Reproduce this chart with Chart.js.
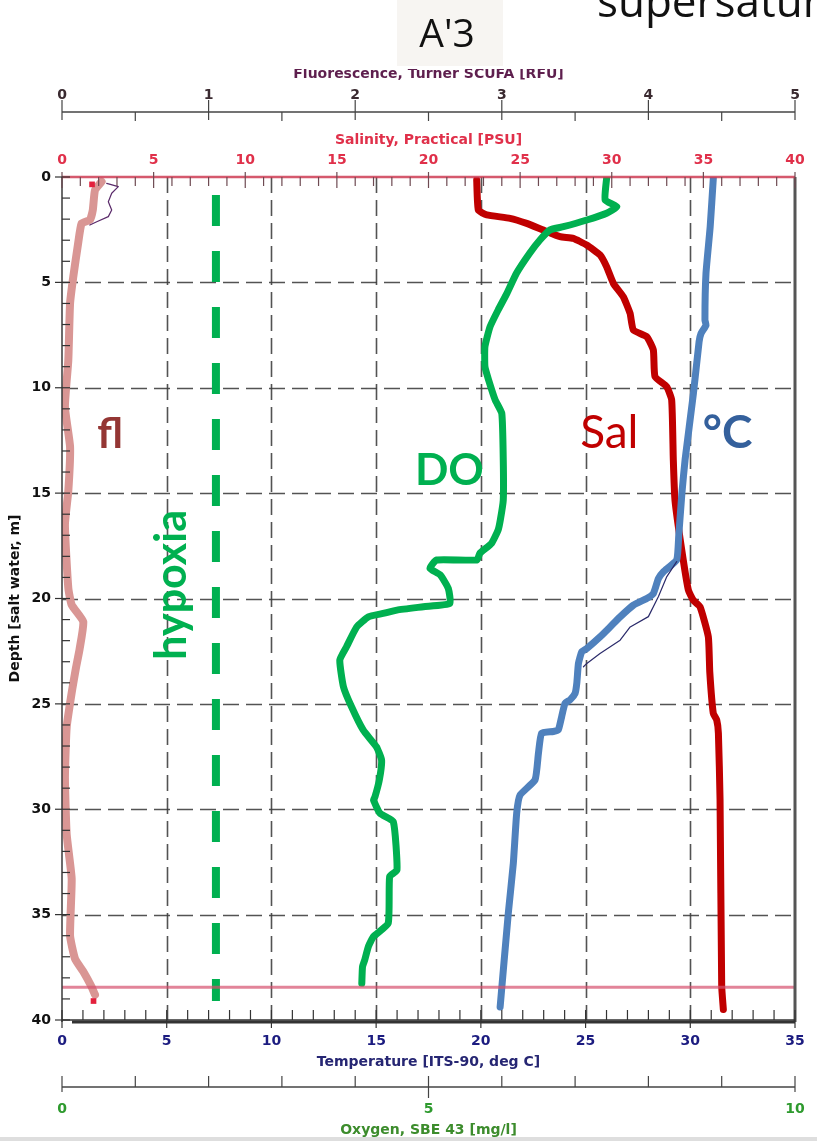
<!DOCTYPE html>
<html>
<head>
<meta charset="utf-8">
<title>A'3 profile</title>
<script src="https://cdn.jsdelivr.net/npm/chart.js@4.4.1/dist/chart.umd.min.js"></script>
<style>
  html, body { margin: 0; padding: 0; background: #ffffff; }
  #wrap { position: relative; width: 817px; height: 1141px; overflow: hidden; }
  #c { position: absolute; left: 0; top: 0; }
</style>
</head>
<body>
<div id="wrap"><canvas id="c" width="817" height="1141"></canvas></div>
<script>
// ---- CTD cast A'3: depth (m) paired with each measured property ----
const flDepth = [0.22, 0.62, 1.57, 2.04, 2.2, 3.15, 4.73, 6.0, 8.7, 10.9, 12.8, 14.9, 16.5, 19.5, 20.3, 21.1, 22.4, 23.3, 24.3, 26.1, 28.5, 31.2, 33.3, 36.0, 37.1, 37.7, 38.4, 38.8];
const flRfu   = [0.27, 0.225, 0.21, 0.19, 0.134, 0.11, 0.077, 0.055, 0.043, 0.02, 0.055, 0.043, 0.02, 0.043, 0.066, 0.145, 0.12, 0.095, 0.07, 0.032, 0.02, 0.032, 0.066, 0.055, 0.089, 0.145, 0.2, 0.225];

const doDepth = [0.06, 1.09, 1.41, 1.72, 2.04, 2.36, 2.51, 2.99, 3.62, 4.57, 5.52, 6.31, 7.1, 8.05, 9.0, 9.63, 10.58, 11.22, 13.43, 15.33, 16.27, 16.75, 17.38, 17.86, 18.17, 18.17, 18.57, 18.88, 19.52, 20.23, 20.39, 20.55, 20.71, 20.87, 21.35, 22.3, 22.92, 24.19, 25.14, 26.25, 27.04, 27.67, 28.6, 29.41, 29.56, 30.2, 30.59, 32.88, 33.19, 35.41, 36.04, 36.51, 37.15, 37.47, 38.26];
const doMgL   = [7.43, 7.41, 7.57, 7.43, 7.16, 6.84, 6.66, 6.52, 6.38, 6.2, 6.07, 5.95, 5.84, 5.77, 5.77, 5.82, 5.91, 6.0, 6.02, 6.02, 5.98, 5.95, 5.86, 5.7, 5.66, 5.11, 5.02, 5.16, 5.27, 5.29, 4.93, 4.57, 4.38, 4.18, 4.02, 3.88, 3.79, 3.84, 3.95, 4.11, 4.29, 4.36, 4.33, 4.27, 4.25, 4.34, 4.52, 4.57, 4.47, 4.45, 4.25, 4.18, 4.13, 4.1, 4.09];

const salDepth = [0.14, 1.57, 1.8, 1.96, 2.2, 2.52, 2.83, 2.91, 3.23, 3.7, 4.26, 5.05, 5.68, 6.47, 7.26, 7.58, 8.21, 9.47, 9.95, 10.58, 13.43, 15.33, 17.7, 19.6, 20.08, 20.4, 21.82, 23.5, 25.45, 25.77, 26.4, 29.56, 38.4, 39.5];
const salPsu   = [22.63, 22.72, 23.18, 24.45, 25.36, 26.27, 27.18, 27.9, 28.63, 29.36, 29.72, 30.09, 30.63, 31.0, 31.18, 31.91, 32.27, 32.36, 33.0, 33.27, 33.36, 33.45, 33.82, 34.18, 34.45, 34.82, 35.27, 35.35, 35.54, 35.73, 35.82, 35.91, 36.0, 36.09];

const tempDepth = [0.06, 2.36, 4.57, 6.79, 7.03, 7.43, 7.82, 10.27, 13.43, 15.0, 17.0, 18.17, 18.73, 19.05, 19.76, 20.0, 20.32, 20.87, 21.35, 21.82, 22.37, 22.53, 23.08, 24.03, 24.5, 24.81, 24.97, 25.6, 26.23, 26.31, 26.39, 27.34, 28.6, 29.33, 30.2, 32.57, 34.94, 39.38];
const tempC     = [31.1, 30.95, 30.75, 30.7, 30.75, 30.51, 30.42, 30.15, 29.75, 29.6, 29.45, 29.35, 28.72, 28.48, 28.24, 27.92, 27.28, 26.65, 26.17, 25.69, 25.06, 24.82, 24.66, 24.58, 24.5, 24.26, 24.02, 23.86, 23.7, 23.46, 22.9, 22.75, 22.59, 21.87, 21.71, 21.55, 21.31, 20.92];

// thin raw sensor traces left visible beside the highlighted curves
const tempRawDepth = [18.25, 18.96, 19.91, 20.86, 21.35, 21.98, 22.61, 23.08, 23.24];
const tempRawC     = [29.35, 28.88, 28.48, 28.0, 27.13, 26.65, 25.69, 25.06, 24.9];
const flRawDepth = [0.3, 0.46, 0.77, 1.17, 1.57, 1.88, 2.12, 2.28];
const flRawRfu   = [0.305, 0.384, 0.339, 0.316, 0.339, 0.316, 0.237, 0.19];

// fluorescence spikes at the start and end of the cast
const flSpikeDepth = [0.35, 39.1];
const flSpikeRfu   = [0.205, 0.215];

// hypoxia threshold and bottom depth marker
const hypoxiaMgL = 2.1;
const hypoxiaDepths = [0.85, 39.1];
const bottomDepth = 38.45;

// tick labels
const depthTicks = [0, 5, 10, 15, 20, 25, 30, 35, 40];
const tempTicks = [0, 5, 10, 15, 20, 25, 30, 35];
const salTicks = [0, 5, 10, 15, 20, 25, 30, 35, 40];
const flTicks = [0, 1, 2, 3, 4, 5];
const oxTicks = [0, 5, 10];

const pairs = (ys, xs) => ys.map((d, i) => ({ x: xs[i], y: d }));

const AXIS_FONT = { family: 'DejaVu Sans', weight: 'bold', size: 14 };
const TICK_FONT = { family: 'DejaVu Sans', weight: 'bold', size: 14 };

function fixedTicks(list) {
  return function (scale) { scale.ticks = list.map(v => ({ value: v })); };
}
function fixHeight(h) {
  return function (s) { s.height = h; s.paddingLeft = 0; s.paddingRight = 0; };
}

const decor = {
  id: 'decor',
  beforeDatasetsDraw(chart) {
    const { ctx, chartArea: a } = chart;
    const T = chart.scales.temp, D = chart.scales.depth;
    ctx.save();
    ctx.strokeStyle = 'rgba(64,64,64,0.9)';
    ctx.lineWidth = 1.6;
    ctx.setLineDash([16, 7]);
    for (let v = 5; v < 35; v += 5) {
      const x = Math.round(T.getPixelForValue(v)) + 0.5;
      ctx.beginPath(); ctx.moveTo(x, a.top); ctx.lineTo(x, a.bottom); ctx.stroke();
    }
    for (let v = 5; v < 40; v += 5) {
      const y = Math.round(D.getPixelForValue(v)) + 0.5;
      ctx.beginPath(); ctx.moveTo(a.left, y); ctx.lineTo(a.right, y); ctx.stroke();
    }
    ctx.restore();
  },
  afterDatasetsDraw(chart) {
    const { ctx, chartArea: a } = chart;
    const S = chart.scales.sal, T = chart.scales.temp, D = chart.scales.depth;
    const F = chart.scales.fl, O = chart.scales.ox;
    const v = (x1, y1, x2, y2) => { ctx.beginPath(); ctx.moveTo(x1, y1); ctx.lineTo(x2, y2); ctx.stroke(); };
    ctx.save();
    ctx.lineCap = 'butt';

    // frame: left and right edges, bottom axis
    ctx.strokeStyle = '#3a3a3a'; ctx.lineWidth = 1.5;
    v(a.left, a.top, a.left, a.bottom + 2);
    ctx.strokeStyle = '#555'; ctx.lineWidth = 3;
    v(a.right, a.top, a.right, a.bottom + 2);
    ctx.strokeStyle = '#333'; ctx.lineWidth = 1.5;
    v(a.left, a.bottom, a.right, a.bottom);
    ctx.lineWidth = 3;
    v(a.left + 10, a.bottom + 2, a.right, a.bottom + 2);

    // salinity axis at the top edge
    ctx.strokeStyle = 'rgba(206,60,84,0.85)'; ctx.lineWidth = 2.5;
    v(a.left, a.top, a.right, a.top);
    ctx.strokeStyle = '#6e4a52'; ctx.lineWidth = 1.2;
    for (let s = 0; s <= 40; s++) {
      const x = S.getPixelForValue(s);
      if (s % 5 === 0) v(x, a.top - 5, x, a.top + 11); else v(x, a.top, x, a.top + 9);
    }

    // temperature ticks on the bottom edge
    ctx.strokeStyle = '#333'; ctx.lineWidth = 1.2;
    for (let t = 0; t <= 35; t++) {
      const x = T.getPixelForValue(t);
      if (t % 5 === 0) v(x, a.bottom - 10, x, a.bottom + 8); else v(x, a.bottom - 10, x, a.bottom);
    }

    // depth ticks on the left edge
    for (let d = 0; d <= 40; d++) {
      const y = D.getPixelForValue(d);
      if (d % 5 === 0) v(a.left - 7, y, a.left + 8, y); else v(a.left, y, a.left + 8, y);
    }

    // fluorescence axis
    const fy = F.bottom;
    ctx.strokeStyle = '#444'; ctx.lineWidth = 1.5;
    v(F.left, fy, F.right, fy);
    ctx.lineWidth = 1.2;
    for (let k = 0; k <= 10; k++) {
      const x = F.getPixelForValue(k / 2);
      if (k % 2 === 0) v(x, fy - 12, x, fy + 8); else v(x, fy, x, fy + 9);
    }

    // oxygen axis
    const oy = O.top + 12;
    ctx.lineWidth = 1.5;
    v(O.left, oy, O.right, oy);
    ctx.lineWidth = 1.2;
    for (let k = 0; k <= 10; k++) {
      const x = O.getPixelForValue(k);
      if (k === 5) v(x, oy - 11, x, oy + 11);
      else if (k === 0 || k === 10) v(x, oy - 11, x, oy + 5);
      else v(x, oy - 11, x, oy);
    }
    ctx.restore();
  },
  afterDraw(chart) {
    const { ctx } = chart;
    const T = chart.scales.temp, D = chart.scales.depth;
    ctx.save();
    // page strip above the plot with the station label
    ctx.fillStyle = '#ffffff';
    ctx.fillRect(0, 0, 817, 69);
    ctx.fillStyle = '#f7f5f2';
    ctx.fillRect(397, 0, 106, 66);
    ctx.fillStyle = '#111';
    ctx.font = '39px "Open Sans"';
    ctx.textAlign = 'center';
    ctx.textBaseline = 'alphabetic';
    ctx.fillText("A'3", 447, 47);
    ctx.textAlign = 'left';
    ctx.font = '44px "Open Sans"';
    ctx.fillText('supersaturated', 597, 17);

    // curve labels
    const at = (t, d) => [T.getPixelForValue(t), D.getPixelForValue(d)];
    ctx.textAlign = 'left';
    let p = at(1.68, 12.85);
    ctx.fillStyle = '#943634'; ctx.font = 'bold 42px Lato';
    ctx.fillText('fl', p[0], p[1]);
    p = at(16.85, 14.6);
    ctx.fillStyle = '#00B050'; ctx.font = 'bold 44px Lato';
    ctx.fillText('DO', p[0], p[1]);
    p = at(24.74, 12.85);
    ctx.fillStyle = '#C00000'; ctx.font = '46px Lato';
    ctx.fillText('Sal', p[0], p[1]);
    p = at(30.6, 12.85);
    ctx.fillStyle = '#34609c'; ctx.font = 'bold 46px Lato';
    ctx.fillText('°C', p[0], p[1]);
    p = at(5.92, 19.35);
    ctx.translate(p[0], p[1]);
    ctx.rotate(-Math.PI / 2);
    ctx.textAlign = 'center';
    ctx.fillStyle = '#00B050'; ctx.font = 'bold 43px Lato';
    ctx.fillText('hypoxia', 0, 0);
    ctx.restore();

    ctx.save();
    ctx.fillStyle = '#dedede';
    ctx.fillRect(0, 1137, 817, 4);
    ctx.restore();
  }
};

const line = (data, axis, color, width, extra) => Object.assign({
  data, xAxisID: axis, yAxisID: 'depth', showLine: true, borderColor: color,
  borderWidth: width, pointRadius: 0, tension: 0.15, fill: false,
  borderCapStyle: 'round', borderJoinStyle: 'round'
}, extra || {});

new Chart(document.getElementById('c'), {
  type: 'scatter',
  data: {
    datasets: [
      line([{ x: 0, y: bottomDepth }, { x: 35, y: bottomDepth }], 'temp', 'rgba(214,80,110,0.7)', 3, { tension: 0, borderCapStyle: 'butt' }),
      line(pairs(hypoxiaDepths, hypoxiaDepths.map(() => hypoxiaMgL)), 'ox', '#00B050', 8, { tension: 0, borderDash: [31, 25], borderCapStyle: 'butt' }),
      line(pairs(flRawDepth, flRawRfu), 'fl', '#5a2a6a', 1.2, { tension: 0 }),
      line(pairs(tempRawDepth, tempRawC), 'temp', '#2a2a6a', 1.2, { tension: 0 }),
      { data: pairs(flSpikeDepth, flSpikeRfu), xAxisID: 'fl', yAxisID: 'depth', showLine: false,
        pointRadius: 4, pointStyle: 'rect', backgroundColor: '#e3203c', borderWidth: 0 },
      line(pairs(flDepth, flRfu), 'fl', '#D99694', 8),
      line(pairs(doDepth, doMgL), 'ox', '#00B050', 7),
      line(pairs(tempDepth, tempC), 'temp', '#4F81BD', 7),
      line(pairs(salDepth, salPsu), 'sal', '#C00000', 7)
    ]
  },
  options: {
    responsive: false,
    animation: false,
    events: [],
    layout: { padding: { top: 60, right: 22, bottom: 0, left: 0 } },
    plugins: { legend: { display: false }, tooltip: { enabled: false } },
    scales: {
      depth: {
        type: 'linear', position: 'left', reverse: true, min: 0, max: 40,
        afterBuildTicks: fixedTicks(depthTicks),
        ticks: { color: '#111', font: TICK_FONT, padding: 11 },
        grid: { display: false, drawTicks: false }, border: { display: false },
        title: { display: true, text: 'Depth [salt water, m]', color: '#111', font: AXIS_FONT, padding: { top: 7, bottom: 0 } },
        afterFit(s) { s.width = 62; s.paddingTop = 0; s.paddingBottom = 0; }
      },
      fl: {
        type: 'linear', position: 'top', weight: 2, min: 0, max: 5,
        afterBuildTicks: fixedTicks(flTicks),
        ticks: { color: '#3a2a30', font: TICK_FONT, padding: 8, maxRotation: 0, autoSkip: false },
        grid: { display: false, drawTicks: false }, border: { display: false },
        title: { display: true, text: 'Fluorescence, Turner SCUFA [RFU]', color: '#5e1f4e', font: AXIS_FONT, padding: { top: 6, bottom: 0 } },
        afterFit: fixHeight(52)
      },
      sal: {
        type: 'linear', position: 'top', weight: 1, min: 0, max: 40,
        afterBuildTicks: fixedTicks(salTicks),
        ticks: { color: '#e0304a', font: TICK_FONT, padding: 8, maxRotation: 0, autoSkip: false },
        grid: { display: false, drawTicks: false }, border: { display: false },
        title: { display: true, text: 'Salinity, Practical [PSU]', color: '#e0304a', font: AXIS_FONT, padding: { top: 20, bottom: 0 } },
        afterFit: fixHeight(65)
      },
      temp: {
        type: 'linear', position: 'bottom', weight: 1, min: 0, max: 35,
        afterBuildTicks: fixedTicks(tempTicks),
        ticks: { color: '#1c1c80', font: TICK_FONT, padding: 13, maxRotation: 0, autoSkip: false },
        grid: { display: false, drawTicks: false }, border: { display: false },
        title: { display: true, text: 'Temperature [ITS-90, deg C]', color: '#262673', font: AXIS_FONT, padding: { top: 0, bottom: 4 } },
        afterFit: fixHeight(55)
      },
      ox: {
        type: 'linear', position: 'bottom', weight: 2, min: 0, max: 10,
        afterBuildTicks: fixedTicks(oxTicks),
        ticks: { color: '#2e9a2e', font: TICK_FONT, padding: 26, maxRotation: 0, autoSkip: false },
        grid: { display: false, drawTicks: false }, border: { display: false },
        title: { display: true, text: 'Oxygen, SBE 43 [mg/l]', color: '#3c8c2c', font: AXIS_FONT, padding: { top: 0, bottom: 2 } },
        afterFit: fixHeight(66)
      }
    }
  },
  plugins: [decor]
});
</script>
</body>
</html>
